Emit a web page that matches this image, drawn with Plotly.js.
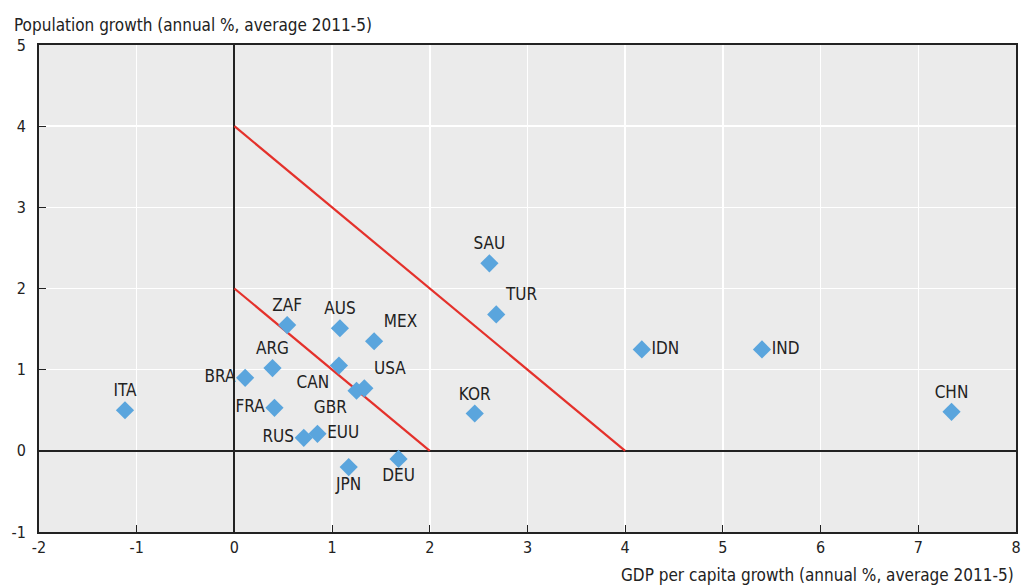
<!DOCTYPE html>
<html>
<head>
<meta charset="utf-8">
<script src="https://cdn.plot.ly/plotly-3.0.1.min.js"></script>
<style>html,body{margin:0;padding:0;background:#fff}#chart{width:1023px;height:585px}</style>
</head>
<body>
<div id="chart"></div>
<script>
const countries = ["ITA","BRA","ARG","ZAF","AUS","MEX","CAN","GBR","USA","FRA","RUS","EUU","JPN","DEU","SAU","TUR","KOR","IDN","IND","CHN"];
const gdpGrowth = [-1.12, 0.11, 0.39, 0.54, 1.08, 1.43, 1.07, 1.25, 1.33, 0.41, 0.71, 0.85, 1.17, 1.68, 2.61, 2.68, 2.46, 4.17, 5.40, 7.34];
const popGrowth = [0.50, 0.90, 1.02, 1.55, 1.51, 1.35, 1.05, 0.74, 0.77, 0.53, 0.16, 0.21, -0.20, -0.10, 2.31, 1.68, 0.46, 1.25, 1.25, 0.48];
const labelPos = ["top center","middle left","top center","top center","top center","top right","bottom left","bottom left","top right","middle left","middle left","middle right","bottom center","bottom center","top center","top right","top center","middle right","middle right","top center"];
const line4x = [0, 4], line4y = [4, 0];
const line2x = [0, 2], line2y = [2, 0];
const xTicks = [-2,-1,0,1,2,3,4,5,6,7,8];
const yTicks = [-1,0,1,2,3,4,5];

const FONT = '"Liberation Sans Narrow","DejaVu Sans Condensed","Arial Narrow",sans-serif';
const red = '#e4312b';

const traces = [
  {x: line4x, y: line4y, mode: 'lines', line: {color: red, width: 2.2}, hoverinfo: 'skip', showlegend: false},
  {x: line2x, y: line2y, mode: 'lines', line: {color: red, width: 2.2}, hoverinfo: 'skip', showlegend: false},
  {x: gdpGrowth, y: popGrowth, text: countries, mode: 'markers+text', textposition: labelPos,
   marker: {symbol: 'diamond', size: 14, color: '#5aa5dd'},
   textfont: {family: FONT, size: 17, color: '#222'}, cliponaxis: false, showlegend: false}
];

const layout = {
  width: 1023, height: 585,
  margin: {l: 39, r: 7, t: 45, b: 53},
  paper_bgcolor: '#ffffff', plot_bgcolor: '#ebebeb',
  font: {family: FONT, size: 16, color: '#222'},
  title: {text: 'Population growth (annual %, average 2011-5)', font: {family: FONT, size: 17, color: '#222'},
          x: 0.0137, xanchor: 'left', y: 0.957, yanchor: 'middle'},
  xaxis: {range: [-2, 8], tickvals: xTicks, ticktext: xTicks.map(String), showgrid: true, gridcolor: '#ffffff', gridwidth: 1.5,
          zeroline: true, zerolinecolor: '#222', zerolinewidth: 2,
          showline: true, mirror: true, linecolor: '#222', linewidth: 2,
          ticks: 'inside', ticklen: 7, tickcolor: '#222', tickfont: {family: FONT, size: 16, color: '#222'},
          ticklabeloverflow: 'allow', fixedrange: true},
  yaxis: {range: [-1, 5], tickvals: yTicks, ticktext: yTicks.map(String), showgrid: true, gridcolor: '#ffffff', gridwidth: 1.5,
          zeroline: true, zerolinecolor: '#222', zerolinewidth: 2,
          showline: true, mirror: true, linecolor: '#222', linewidth: 2,
          ticks: 'inside', ticklen: 7, tickcolor: '#222', tickfont: {family: FONT, size: 16, color: '#222'},
          ticklabelstandoff: 8, ticklabeloverflow: 'allow', fixedrange: true},
  annotations: [{text: 'GDP per capita growth (annual %, average 2011-5)', xref: 'paper', yref: 'paper',
                 x: 1.0, xanchor: 'right', y: -0.089, yanchor: 'middle', showarrow: false,
                 font: {family: FONT, size: 17, color: '#222'}}]
};

Plotly.newPlot('chart', traces, layout, {displayModeBar: false, staticPlot: true});
</script>
</body>
</html>
